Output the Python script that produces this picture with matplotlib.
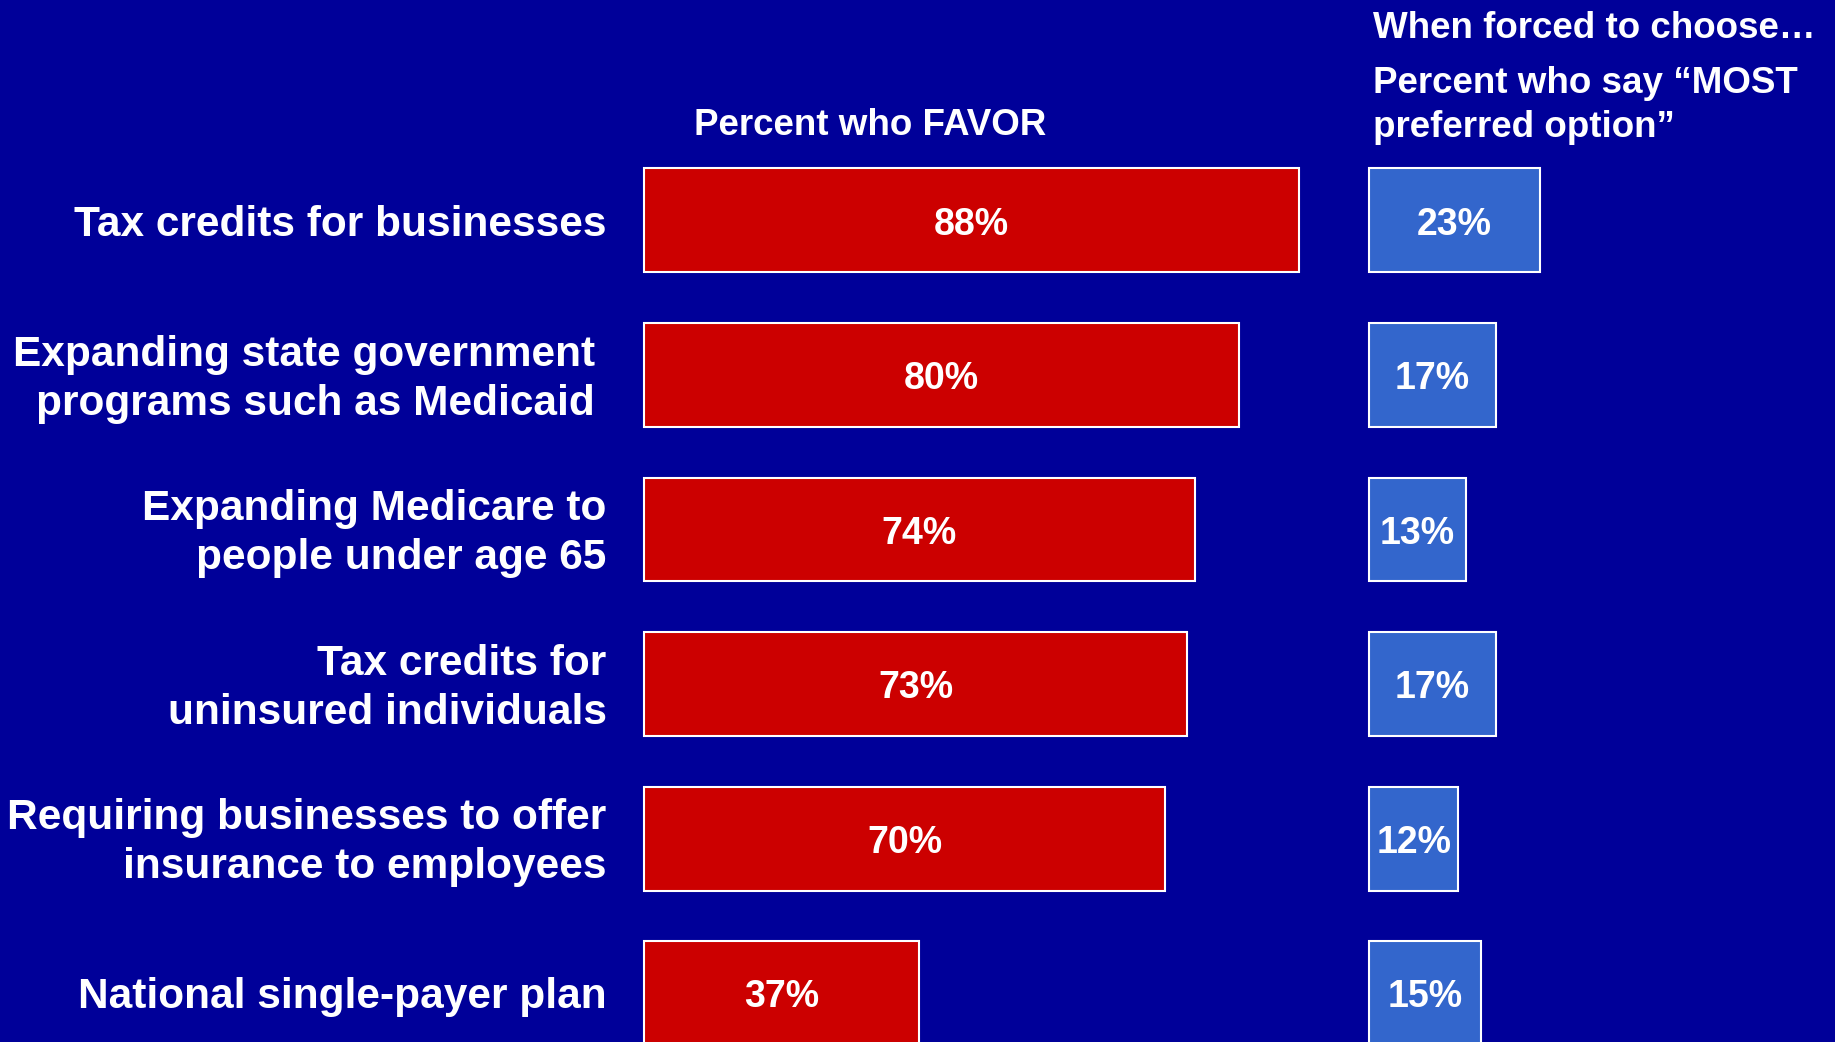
import matplotlib
matplotlib.use("Agg")
import matplotlib.pyplot as plt

# survey results, one entry per option (top to bottom)
categories = [
    "Tax credits for businesses",
    "Expanding state government \nprograms such as Medicaid ",
    "Expanding Medicare to\npeople under age 65",
    "Tax credits for\nuninsured individuals",
    "Requiring businesses to offer\ninsurance to employees",
    "National single-payer plan",
]
favor = [88, 80, 74, 73, 70, 37]
most_preferred = [23, 17, 13, 17, 12, 15]

BG = "#000099"
RED = "#CC0000"
BLUE = "#3366CC"
FONT = "Liberation Sans"

fig = plt.figure(figsize=(18.35, 10.42), dpi=100, facecolor=BG)
ax = fig.add_axes([0, 0, 1, 1])
ax.set_facecolor(BG)
ax.set_xlim(-86.5, 160.0)
ax.set_ylim(5.317, -1.427)
ax.axis("off")

rows = list(range(len(categories)))
blue_left = 97.4  # second panel starts to the right of the first
bar_h = 0.673
dy = 0.028  # nudge text down a little so it sits centred in the bars

ax.barh(rows, favor, height=bar_h, left=0, color=RED, edgecolor="white", linewidth=1.5)
ax.barh(rows, most_preferred, height=bar_h, left=blue_left, color=BLUE,
        edgecolor="white", linewidth=1.5)

for r, (cat, f, m) in enumerate(zip(categories, favor, most_preferred)):
    ax.text(-5, r + dy, cat, ha="right", va="center", color="white", fontsize=30.5,
            fontweight="bold", family=FONT, linespacing=1.3)
    ax.text(f / 2, r + dy, f"{f}%", ha="center", va="center", color="white",
            fontsize=27, fontweight="bold", family=FONT)
    ax.text(blue_left + m / 2, r + dy, f"{m}%", ha="center", va="center", color="white",
            fontsize=27, fontweight="bold", family=FONT)

# column headers
fig.text(0.474, 0.880, "Percent who FAVOR", ha="center", va="center", color="white",
         fontsize=26.5, fontweight="bold", family=FONT)
fig.text(0.748, 0.973, "When forced to choose\u2026", ha="left", va="center",
         color="white", fontsize=26.5, fontweight="bold", family=FONT)
fig.text(0.748, 0.899, "Percent who say \u201cMOST\npreferred option\u201d", ha="left",
         va="center", color="white", fontsize=26.5, fontweight="bold", family=FONT,
         linespacing=1.32)

fig.savefig("out.png", dpi=100, facecolor=BG)
